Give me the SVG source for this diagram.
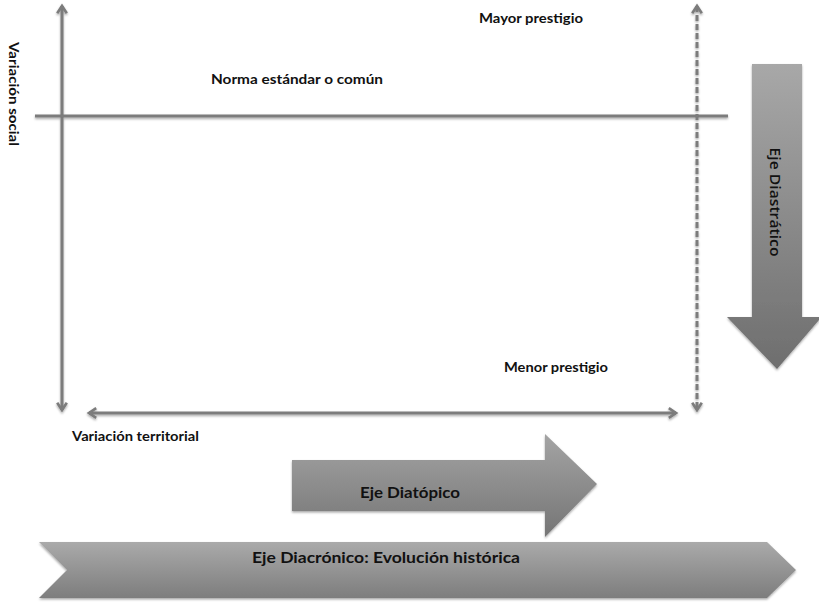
<svg xmlns="http://www.w3.org/2000/svg" width="819" height="602" viewBox="0 0 819 602">
<style>
.lbl{font-family:"Lato","Liberation Sans",sans-serif;font-weight:bold;font-size:13px;fill:#111}
.big{font-family:"Lato","Liberation Sans",sans-serif;font-weight:bold;font-size:15px;fill:#111}
.ax{stroke:#7b7b7b;stroke-width:3;fill:none}
</style>
<defs>
<filter id="sh" x="-10%" y="-10%" width="120%" height="130%">
<feDropShadow dx="0" dy="1.5" stdDeviation="1.2" flood-color="#000" flood-opacity="0.35"/>
</filter>
<marker id="ah" viewBox="0 0 10 10" refX="7" refY="5" markerWidth="4" markerHeight="4" orient="auto-start-reverse" markerUnits="strokeWidth">
<path d="M1,1 L7,5 L1,9" fill="none" stroke="#7b7b7b" stroke-width="2.2"/>
</marker>
<linearGradient id="gv" x1="0" y1="0" x2="0" y2="1">
<stop offset="0" stop-color="#a8a8a8"/>
<stop offset="1" stop-color="#6e6e6e"/>
</linearGradient>
<linearGradient id="gh" x1="0" y1="0" x2="0" y2="1">
<stop offset="0" stop-color="#a4a4a4"/>
<stop offset="1" stop-color="#757575"/>
</linearGradient>
<linearGradient id="gc" x1="0" y1="0" x2="0" y2="1">
<stop offset="0" stop-color="#aaaaaa"/>
<stop offset="1" stop-color="#7d7d7d"/>
</linearGradient>
</defs>
<g id="connectors" filter="url(#sh)">
<line class="ax" x1="62" y1="6" x2="62" y2="410" marker-start="url(#ah)" marker-end="url(#ah)"/>
<line class="ax" x1="35" y1="116" x2="728" y2="116"/>
<line class="ax" x1="697" y1="6" x2="697" y2="410" stroke-dasharray="6,3" marker-start="url(#ah)" marker-end="url(#ah)"/>
<line class="ax" x1="89" y1="413" x2="676" y2="413" marker-start="url(#ah)" marker-end="url(#ah)"/>
</g>
<g id="variacion-social"><text class="lbl" transform="translate(9,94) rotate(90)" text-anchor="middle" textLength="104" lengthAdjust="spacingAndGlyphs">Variación social</text></g>
<g id="mayor"><text class="lbl" x="479" y="23" textLength="104" lengthAdjust="spacingAndGlyphs">Mayor prestigio</text></g>
<g id="norma"><text class="lbl" x="211" y="84" textLength="172" lengthAdjust="spacingAndGlyphs">Norma estándar o común</text></g>
<g id="menor"><text class="lbl" x="504" y="372" textLength="104" lengthAdjust="spacingAndGlyphs">Menor prestigio</text></g>
<g id="variacion-territorial"><text class="lbl" x="72" y="441" textLength="127" lengthAdjust="spacingAndGlyphs">Variación territorial</text></g>
<g id="eje-diastratico">
<path d="M752,64 L802,64 L802,317 L819,317 L819,320 L777,369 L727,317 L752,317 Z" fill="url(#gv)" filter="url(#sh)"/>
<text transform="translate(770,202) rotate(90)" text-anchor="middle" textLength="109" lengthAdjust="spacingAndGlyphs" style="font-family:'Open Sans','Liberation Sans',sans-serif;font-weight:600;font-size:14px;fill:#111">Eje Diastrático</text>
</g>
<g id="eje-diatopico">
<path d="M292,460 L545,460 L545,434 L597,484 L545,537 L545,511 L292,511 Z" fill="url(#gh)" filter="url(#sh)"/>
<text class="big" x="410" y="498" text-anchor="middle" textLength="100" lengthAdjust="spacingAndGlyphs">Eje Diatópico</text>
</g>
<g id="eje-diacronico">
<path d="M39,542 L767,542 L796,570 L767,598 L39,598 L67,570 Z" fill="url(#gc)" filter="url(#sh)"/>
<text class="big" x="386" y="563" text-anchor="middle" textLength="268" lengthAdjust="spacingAndGlyphs">Eje Diacrónico: Evolución histórica</text>
</g>
</svg>
